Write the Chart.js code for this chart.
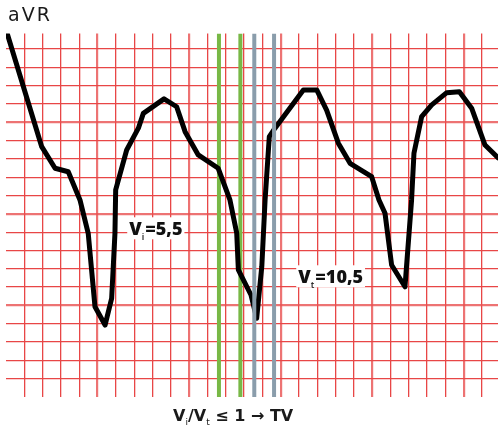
<!DOCTYPE html>
<html lang="en">
<head>
    <meta charset="UTF-8">
    <title>aVR</title>
    <script src="https://cdn.jsdelivr.net/npm/chart.js"></script>
    <style>
        body { margin: 0; background: #fff; }
        .wrap { position: relative; width: 498px; height: 437px; overflow: hidden; }
        #ecg { position: absolute; left: 0; top: 0; }
        .lead { position: absolute; left: 8px; top: 3px; font: 400 19px "DejaVu Sans", sans-serif; color: #1a1a1a; letter-spacing: 2px; }
        .caption { position: absolute; left: 173px; top: 406px; font: bold 16px "DejaVu Sans", sans-serif; color: #1a1a1a; white-space: nowrap; }
        .caption sub { font-size: 9px; vertical-align: -4px; font-weight: normal; }
    </style>
</head>
<body>
    <div class="wrap">
        <canvas id="ecg" width="498" height="437"></canvas>
        <div class="lead">aVR</div>
        <div class="caption">V<sub>i</sub>/V<sub>t</sub> ≤ 1 → TV</div>
    </div>

    <script>
        // trace, in small-box units (x from left, y from bottom)
        const traceX = [0.05, 1.95, 2.68, 3.40, 4.04, 4.49, 4.86, 5.41, 5.77, 5.95, 5.99, 6.59, 7.23, 7.50, 8.63, 9.32, 9.78, 10.50, 11.59, 12.23, 12.60, 12.69, 13.38, 13.69, 13.97, 14.15, 14.38, 14.69, 16.24, 16.97, 17.51, 18.15, 18.79, 19.97, 20.37, 20.70, 21.06, 21.79, 22.15, 22.28, 22.70, 23.25, 24.07, 24.76, 25.43, 26.16, 26.87];
        const traceY = [19.9, 13.67, 12.49, 12.30, 10.76, 8.94, 4.93, 3.93, 5.39, 8.94, 11.31, 13.49, 14.68, 15.49, 16.28, 15.85, 14.49, 13.22, 12.49, 10.76, 8.96, 6.94, 5.57, 4.30, 7.12, 10.76, 14.22, 14.68, 16.77, 16.77, 15.67, 13.86, 12.76, 12.03, 10.76, 10.03, 7.21, 6.02, 10.76, 13.31, 15.31, 15.95, 16.62, 16.67, 15.77, 13.76, 13.06];

        // measurement markers
        const greenMarkers = [11.63, 12.80];
        const greyMarkers = [13.56, 14.64];

        // grid
        const xGrid = [];
        for (let i = 1; i <= 26; i++) xGrid.push(i);
        const yGrid = [];
        for (let j = 1; j <= 19; j++) yGrid.push(j);
        const xMax = 26.87;
        const yMax = 19.85;

        // labels: [main, subscript, rest, x, baseline y]
        const notes = [
            ['V', 'i', '=5,5', 6.73, 8.83],
            ['V', 't', '=10,5', 15.96, 6.21]
        ];

        const RED = '#e84646';
        const RED_MAJOR = 'rgba(232,80,80,0.8)';
        const FONT_BIG = '800 18px "Open Sans", sans-serif';
        const FONT_SUB = '600 9px "Open Sans", sans-serif';

        function markerSets(xs, color) {
            return xs.map(v => ({
                data: [{x: v, y: 0}, {x: v, y: yMax}],
                borderColor: color,
                borderWidth: 4,
                pointRadius: 0,
                borderCapStyle: 'butt'
            }));
        }

        const trace = {
            data: traceX.map((x, i) => ({x: x, y: traceY[i]})),
            borderColor: '#000',
            borderWidth: 5,
            pointRadius: 0,
            tension: 0,
            borderJoinStyle: 'round',
            borderCapStyle: 'round'
        };

        // first dataset is painted last
        const datasets = [
            ...markerSets(greyMarkers, '#8a9dab'),
            trace,
            ...markerSets(greenMarkers, '#78b846')
        ];

        const notesPlugin = {
            id: 'notes',
            afterDatasetsDraw(chart) {
                const ctx = chart.ctx;
                const xs = chart.scales.x, ys = chart.scales.y;
                ctx.save();
                notes.forEach(n => {
                    const px = xs.getPixelForValue(n[3]);
                    const py = ys.getPixelForValue(n[4]);
                    ctx.font = FONT_BIG;
                    const w1 = ctx.measureText(n[0]).width;
                    const w3 = ctx.measureText(n[2]).width;
                    ctx.font = FONT_SUB;
                    const w2 = ctx.measureText(n[1]).width + 1;
                    const total = w1 + w2 + w3;
                    ctx.fillStyle = '#fff';
                    ctx.fillRect(px - 2, py - 18, total + 4, 22);
                    ctx.fillStyle = '#111';
                    ctx.textBaseline = 'alphabetic';
                    ctx.font = FONT_BIG;
                    ctx.fillText(n[0], px, py);
                    ctx.font = FONT_SUB;
                    ctx.fillText(n[1], px + w1, py + 5);
                    ctx.font = FONT_BIG;
                    ctx.fillText(n[2], px + w1 + w2, py);
                });
                ctx.restore();
            }
        };

        function gridOpts() {
            return {
                drawTicks: false,
                color: c => (c.tick && c.tick.value % 5 === 0) ? RED_MAJOR : RED,
                lineWidth: c => (c.tick && c.tick.value % 5 === 0) ? 2.2 : 1.3
            };
        }

        new Chart(document.getElementById('ecg'), {
            type: 'line',
            data: { datasets: datasets },
            options: {
                responsive: false,
                animation: false,
                devicePixelRatio: 1,
                layout: { padding: { left: 6, top: 33.5, right: 0, bottom: 40 } },
                plugins: { legend: { display: false }, tooltip: { enabled: false } },
                scales: {
                    x: {
                        type: 'linear', min: 0, max: xMax,
                        border: { display: false },
                        ticks: { display: false },
                        grid: gridOpts(),
                        afterBuildTicks: s => { s.ticks = xGrid.map(v => ({value: v})); }
                    },
                    y: {
                        type: 'linear', min: 0, max: yMax,
                        border: { display: false },
                        ticks: { display: false },
                        grid: gridOpts(),
                        afterBuildTicks: s => { s.ticks = yGrid.map(v => ({value: v})); }
                    }
                }
            },
            plugins: [notesPlugin]
        });
    </script>
</body>
</html>
